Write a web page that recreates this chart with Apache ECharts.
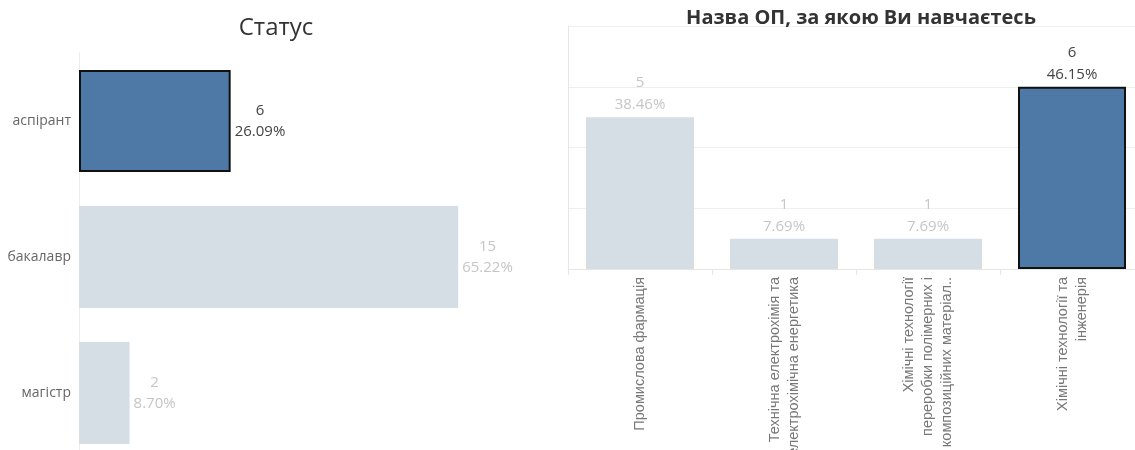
<!DOCTYPE html>
<html>
<head>
<meta charset="utf-8">
<script src="https://cdn.jsdelivr.net/npm/echarts@6/dist/echarts.min.js"></script>
<style>
html,body{margin:0;padding:0;background:#fff;}
#chart{width:1135px;height:450px;}
</style>
</head>
<body>
<div id="chart"></div>
<script>
// ---- data ----
const statusTitle = 'Статус';
const statusCategories = ['аспірант', 'бакалавр', 'магістр'];
const statusCounts = [6, 15, 2];
const statusPercents = ['26.09%', '65.22%', '8.70%'];
const statusHighlight = 0;

const opTitle = 'Назва ОП, за якою Ви навчаєтесь';
const opCategories = [
  'Промислова фармація',
  'Технічна електрохімія та\nелектрохімічна енергетика',
  'Хімічні технології\nпереробки полімерних і\nкомпозиційних матеріал..',
  'Хімічні технології та\nінженерія'
];
const opCounts = [5, 1, 1, 6];
const opPercents = ['38.46%', '7.69%', '7.69%', '46.15%'];
const opHighlight = 3;
const opTicks = [0, 2, 4, 6, 8];

// ---- style ----
const FONT = '"Open Sans", "Noto Sans", sans-serif';
const HI = '#4e79a7';
const LO = '#d5dde5';
const HI_TXT = '#444';
const LO_TXT = '#c6c6c6';
const GRIDC = '#efefef';

function barData(values, hi) {
  return values.map((v, i) => ({
    value: v,
    itemStyle: i === hi
      ? { color: HI, borderColor: '#111', borderWidth: 2 }
      : { color: LO, borderWidth: 0 },
    label: { color: i === hi ? HI_TXT : LO_TXT }
  }));
}

const chart = echarts.init(document.getElementById('chart'));
chart.setOption({
  animation: false,
  textStyle: { fontFamily: FONT },
  title: [
    { text: statusTitle, left: 271, top: 11, textAlign: 'center',
      textStyle: { fontFamily: FONT, fontSize: 24, fontWeight: 'normal', color: '#333' } },
    { text: opTitle, left: 856, top: 3, textAlign: 'center',
      textStyle: { fontFamily: FONT, fontSize: 20, fontWeight: 'bold', color: '#333' } }
  ],
  grid: [
    { left: 79, top: 53, width: 455, height: 408, containLabel: false, outerBoundsMode: 'none' },
    { left: 568, top: 26, width: 576, height: 243, containLabel: false, outerBoundsMode: 'none' }
  ],
  xAxis: [
    { gridIndex: 0, type: 'value', min: 0, max: 18, show: false },
    { gridIndex: 1, type: 'category', data: opCategories,
      axisLine: { show: true, lineStyle: { color: '#e6e6e6' } },
      axisTick: { show: true, length: 6, lineStyle: { color: '#e6e6e6' } },
      axisLabel: { rotate: 90, margin: 8, color: '#777', fontSize: 14.5, lineHeight: 19, interval: 0,
        hideOverlap: false,
        fontFamily: '"Liberation Sans", Arial, sans-serif' } }
  ],
  yAxis: [
    { gridIndex: 0, type: 'category', data: statusCategories, inverse: true,
      axisLine: { show: true, lineStyle: { color: '#ececec' } },
      axisTick: { show: false },
      axisLabel: { color: '#666', fontSize: 14, margin: 8 } },
    { gridIndex: 1, type: 'value', min: opTicks[0], max: opTicks[opTicks.length - 1], interval: 2,
      axisLine: { show: true, lineStyle: { color: '#e6e6e6' } },
      axisTick: { show: false },
      axisLabel: { show: false },
      splitLine: { show: true, lineStyle: { color: GRIDC } } }
  ],
  series: [
    { type: 'bar', xAxisIndex: 0, yAxisIndex: 0, barCategoryGap: '25%',
      data: barData(statusCounts, statusHighlight),
      label: { show: true, position: 'right', distance: 4, fontSize: 15, lineHeight: 21,
        formatter: p => '{c|' + p.value + '}\n{c|' + statusPercents[p.dataIndex] + '}',
        rich: { c: { align: 'center', fontSize: 15, lineHeight: 21 } } } },
    { type: 'bar', xAxisIndex: 1, yAxisIndex: 1, barCategoryGap: '25%',
      data: barData(opCounts, opHighlight),
      label: { show: true, position: 'top', distance: 1, fontSize: 15, lineHeight: 22,
        formatter: p => p.value + '\n' + opPercents[p.dataIndex] } }
  ]
});
</script>
</body>
</html>
